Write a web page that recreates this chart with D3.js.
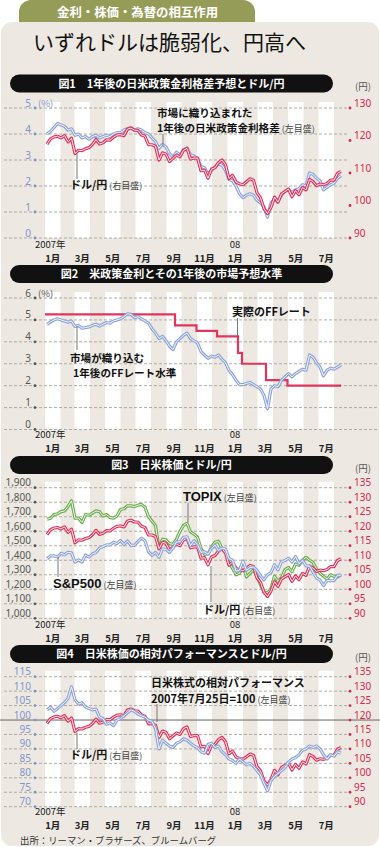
<!DOCTYPE html>
<html><head><meta charset="utf-8">
<script src="https://cdn.jsdelivr.net/npm/d3@7"></script>
<style>
body{margin:0;background:#fff;}
svg{display:block;font-family:"Noto Sans CJK JP","Noto Sans",sans-serif;}
</style></head><body>
<svg id="c" width="380" height="847"></svg>
<script>
// ---------------- DATA (weekly observations, Fridays from 2007-01-05) ----------------
const firstWeek = new Date(2007, 0, 5);
const usdJpy = [118.9,120.5,121.1,121.3,120.8,121.5,119.6,120.7,116.0,117.0,
  116.9,117.5,117.8,118.8,120.3,118.9,119.3,120.2,120.1,121.0,
  121.7,121.8,121.5,123.5,123.8,123.2,123.1,121.7,121.3,118.7,
  118.7,118.2,114.0,116.2,115.8,113.5,114.5,115.5,115.0,117.0,
  117.6,114.3,114.6,114.6,110.7,110.9,108.4,111.2,111.6,113.2,
  114.0,112.5,
  108.3,109.3,107.2,106.7,106.4,107.3,108.2,107.8,103.9,102.4,
  99.0,97.5,99.4,102.6,101.0,103.6,104.3,105.1,102.7,104.6,
  103.3,105.5,104.8,108.0,107.4,106.1,106.6,106.4,106.8,107.8,
  107.8,109.9,110.5];
const rateDiff = [4.00,4.10,4.25,4.40,4.35,4.30,4.15,4.20,3.95,4.00,
  3.85,3.90,3.80,3.90,3.95,3.85,3.90,3.95,3.90,4.00,
  4.05,4.05,4.15,4.20,4.25,4.15,4.20,4.15,4.05,4.00,
  3.85,3.70,3.45,3.60,3.50,3.25,3.10,3.30,3.20,3.40,
  3.45,3.20,3.15,3.05,2.75,2.70,2.45,2.60,2.75,2.85,
  2.80,2.60,2.25,2.20,2.00,1.70,1.55,1.65,1.70,1.65,
  1.45,1.35,1.20,0.80,1.35,1.50,1.40,1.65,1.80,1.85,
  1.75,1.85,1.90,2.05,2.00,2.50,2.45,2.30,2.20,1.85,
  1.95,2.05,2.10,2.30,2.40];
const ffExpected = [4.80,4.90,5.00,5.05,5.00,4.95,4.90,4.95,4.70,4.75,
  4.62,4.65,4.68,4.75,4.80,4.72,4.80,4.88,4.85,4.95,
  5.00,5.05,5.15,5.28,5.25,5.10,5.15,5.05,4.95,4.85,
  4.60,4.40,4.15,4.25,4.05,3.80,3.65,4.00,4.15,4.30,
  4.40,4.15,4.05,3.95,3.55,3.40,3.25,3.35,3.30,3.40,
  3.20,3.05,2.70,2.50,2.25,2.05,2.05,2.10,2.15,2.05,
  1.95,1.85,1.55,0.95,1.85,2.00,1.95,2.25,2.40,2.55,
  2.40,2.55,2.65,2.75,2.70,3.40,3.30,3.05,2.85,2.45,
  2.70,2.80,2.75,2.85,2.95];
const ffActualDates = ["2007-01-01","2007-09-18","2007-10-31","2007-12-11","2008-01-22","2008-01-30","2008-03-18","2008-04-30","2008-08-15"];
const ffActualValues = [5.25,4.75,4.50,4.25,3.50,3.00,2.25,2.00,2.00];
const sp500 = [1410,1430,1430,1422,1448,1438,1455,1451,1387,1403,
  1387,1436,1421,1444,1453,1484,1494,1506,1506,1523,
  1516,1536,1508,1533,1503,1503,1530,1552,1534,1459,
  1433,1454,1420,1479,1474,1454,1484,1526,1527,1558,
  1562,1501,1535,1510,1454,1459,1441,1481,1505,1468,
  1484,1478,
  1412,1401,1325,1331,1395,1331,1350,1353,1331,1293,
  1265,1300,1315,1370,1333,1390,1398,1414,1388,1425,
  1376,1400,1361,1360,1318,1278,1263,1225,1261,1258,
  1260,1296,1298];
const topix = [1682,1690,1715,1720,1735,1740,1770,1810,1690,1690,
  1660,1715,1710,1725,1740,1735,1705,1715,1695,1690,
  1705,1750,1755,1775,1775,1770,1780,1785,1765,1700,
  1670,1640,1480,1545,1540,1515,1510,1545,1600,1640,
  1655,1595,1580,1560,1480,1440,1445,1490,1525,1530,
  1480,1470,
  1380,1345,1300,1310,1360,1285,1310,1335,1290,1230,
  1180,1175,1205,1290,1255,1280,1335,1350,1320,1375,
  1365,1400,1420,1400,1385,1340,1310,1290,1270,1300,
  1290,1285,1300];
const relPerf = [103.5,104.5,103.0,104.0,105.0,106.0,107.5,111.5,107.0,105.5,
  106.0,104.5,104.0,103.5,103.8,101.0,100.5,98.5,99.0,98.0,
  100.0,100.5,101.5,102.5,103.5,103.0,102.0,101.5,101.0,100.0,
  99.5,97.0,90.0,93.0,92.0,91.0,90.5,92.0,92.5,93.5,
  93.0,92.0,91.0,90.5,89.0,88.5,91.5,92.0,90.5,91.0,
  89.0,88.0,86.5,86.0,85.0,86.5,85.5,84.5,85.0,84.0,
  82.5,81.0,78.0,75.5,79.0,80.5,81.5,82.5,83.5,85.5,
  86.5,87.0,88.0,89.5,90.0,91.0,90.5,91.0,90.0,88.0,
  86.5,88.0,87.5,89.0,88.5];
const monthLabels = ["1月","3月","5月","7月","9月","11月","1月","3月","5月","7月"];
const p1LeftTicks = [0,1,2,3,4,5];
const p1RightTicks = [90,100,110,120,130];
const p2LeftTicks = [0,1,2,3,4,5,6];
const p3LeftTicks = [1000,1100,1200,1300,1400,1500,1600,1700,1800,1900];
const p3RightTicks = [90,95,100,105,110,115,120,125,130,135];
const p4LeftTicks = [70,75,80,85,90,95,100,105,110,115];
const p4RightTicks = [90,95,100,105,110,115,120,125,130,135];

// ---------------- STYLE ----------------
const BG = "#ede9e2", RED = "#e2345d", BLUE = "#8da4da", GREEN = "#6aad4b";
const RED_T = "#d9264f", BLUE_T = "#7d95cc", GREY_T = "#555";
const svg = d3.select("#c");
const weeks = usdJpy.map((_, i) => d3.timeDay.offset(firstWeek, 7 * i));
const x = d3.scaleTime().domain([new Date(2007,0,1), new Date(2008,7,1)]).range([45, 334]);
const bandMonths = d3.timeMonth.range(new Date(2007,0,1), new Date(2008,7,1)).filter(d => d.getMonth() % 2 === 0);

// frame
svg.append("rect").attr("x",19).attr("y",0).attr("width",236).attr("height",34).attr("rx",12).attr("fill","#959c57");
svg.append("rect").attr("x",1).attr("y",22).attr("width",378).attr("height",824).attr("rx",11).attr("fill",BG);
svg.append("text").attr("x",57).attr("y",17).attr("fill","#fff").attr("font-size",12.4).attr("font-weight","bold").text("金利・株価・為替の相互作用");
svg.append("text").attr("x",33).attr("y",50).attr("fill","#111").attr("font-size",21).text("いずれドルは脆弱化、円高へ");

const panels = [
  {top:108, bot:238, head:74.5, title:"図1　1年後の日米政策金利格差予想とドル/円",
   left:{dom:[0,5], ticks:p1LeftTicks, color:BLUE_T, fmt:d=>d, pct:"(%)"},
   right:{dom:[90,130], ticks:p1RightTicks}, gridEnd:348, yen:90, xl:248, ml:262},
  {top:298, bot:429.5, head:265, title:"図2　米政策金利とその1年後の市場予想水準",
   left:{dom:[0,6], ticks:p2LeftTicks, color:GREY_T, fmt:d=>d, pct:"(%)"},
   right:null, gridEnd:378, xl:438, ml:452},
  {top:487.7, bot:618.3, head:456, title:"図3　日米株価とドル/円",
   left:{dom:[1000,1900], ticks:p3LeftTicks, color:GREY_T, fmt:d3.format(",")},
   right:{dom:[90,135], ticks:p3RightTicks}, gridEnd:348, yen:472, xl:628, ml:642},
  {top:676.7, bot:806.7, head:645, title:"図4　日米株価の相対パフォーマンスとドル/円",
   left:{dom:[70,115], ticks:p4LeftTicks, color:BLUE_T, fmt:d=>d, solid:100},
   right:{dom:[90,135], ticks:p4RightTicks}, gridEnd:348, yen:661, xl:815, ml:829}
];

panels.forEach(p => {
  const g = svg.append("g");
  p.g = g;
  p.yL = d3.scaleLinear().domain(p.left.dom).range([p.bot, p.top]);
  if (p.right) p.yR = d3.scaleLinear().domain(p.right.dom).range([p.bot, p.top]);
  // header
  g.append("rect").attr("x",10).attr("y",p.head).attr("width",323).attr("height",18).attr("rx",9).attr("fill","#111");
  g.append("text").attr("x",171.5).attr("y",p.head+13).attr("text-anchor","middle").attr("fill","#fff")
    .attr("font-size",11).attr("font-weight","bold").text(p.title);
  // month bands
  g.selectAll(".band").data(bandMonths).join("rect")
    .attr("x", d => x(d)).attr("width", d => x(d3.timeMonth.offset(d,1)) - x(d))
    .attr("y", p.top - 6).attr("height", p.bot - p.top + 6).attr("fill", "#fff");
  // gridlines
  p.left.ticks.forEach(t => {
    if (t === p.left.solid) return;
    g.append("line").attr("x1",4).attr("x2",p.gridEnd).attr("y1",p.yL(t)).attr("y2",p.yL(t))
      .attr("stroke","#9e9a94").attr("stroke-width",0.8).attr("stroke-dasharray","3,2");
  });
  if (p.left.solid !== undefined) {
    g.append("line").attr("x1",0).attr("x2",380).attr("y1",p.yL(p.left.solid)).attr("y2",p.yL(p.left.solid))
      .attr("stroke","#666").attr("stroke-width",1);
  }
  // left axis
  p.left.ticks.forEach(t => {
    g.append("circle").attr("cx",35).attr("cy",p.yL(t)).attr("r",1.4).attr("fill",p.left.color);
    g.append("text").attr("x",31).attr("y",p.yL(t)-1.5).attr("text-anchor","end").attr("fill",p.left.color)
      .attr("font-family","'Noto Sans',sans-serif").attr("font-size",10).text(p.left.fmt(t));
  });
  if (p.left.pct) {
    g.append("text").attr("x",38).attr("y",p.yL(p.left.dom[1])-1.5).attr("fill",p.left.color)
      .attr("font-size",9.5).text(p.left.pct);
  }
  // right axis
  if (p.right) {
    p.right.ticks.forEach(t => {
      g.append("circle").attr("cx",350).attr("cy",p.yR(t)).attr("r",1.4).attr("fill",RED_T);
      g.append("text").attr("x",354).attr("y",p.yR(t)-1.5).attr("fill",RED_T)
        .attr("font-family","'Noto Sans',sans-serif").attr("font-size",10).text(t);
    });
    g.append("text").attr("x",355).attr("y",p.yen).attr("fill","#555").attr("font-size",9.5).text("(円)");
  }
  // x labels
  g.append("text").attr("x",35).attr("y",p.xl).attr("fill","#222").attr("font-size",9.5).text("2007年");
  g.append("text").attr("x",x(new Date(2008,0,16))).attr("y",p.xl).attr("text-anchor","middle").attr("fill","#222").attr("font-size",9.5).text("08");
  g.selectAll(".ml").data(bandMonths).join("text")
    .attr("x", d => (x(d) + x(d3.timeMonth.offset(d,1))) / 2).attr("y", p.ml)
    .attr("text-anchor","middle").attr("fill","#222").attr("font-size",9.5).attr("font-weight","bold")
    .text((d,i) => monthLabels[i]);
});

function ribbon(g, vals, y, color) {
  const line = d3.line().x((d,i) => x(weeks[i])).y(d => y(d));
  g.append("path").attr("d", line(vals)).attr("fill","none").attr("stroke",color)
    .attr("stroke-width",3.2).attr("stroke-linejoin","round");
  g.append("path").attr("d", line(vals)).attr("fill","none").attr("stroke","#fff")
    .attr("stroke-width",0.9).attr("stroke-linejoin","round");
}
function leader(g, x0, y0, y1) {
  g.append("line").attr("x1",x0).attr("x2",x0).attr("y1",y0).attr("y2",y1).attr("stroke","#777").attr("stroke-width",1);
}
// multi-line label: lines = [[x, dy, main, note], ...]
function label(g, x0, y0, lines, size, family) {
  const t = g.append("text").attr("x",x0).attr("y",y0).attr("fill","#111");
  lines.forEach((ln, i) => {
    t.append("tspan").attr("x", ln[0]).attr("dy", i === 0 ? 0 : ln[1])
      .attr("font-size",size || 11).attr("font-weight","bold")
      .attr("font-family", family || null).text(ln[2]);
    if (ln[3]) t.append("tspan").attr("dx",2).attr("font-size",9).attr("font-weight","normal")
      .attr("font-family", "'Noto Sans CJK JP',sans-serif").attr("fill","#444").text(ln[3]);
  });
}

// Panel 1
{
  const p = panels[0], g = p.g;
  ribbon(g, rateDiff, p.yL, BLUE);
  ribbon(g, usdJpy, p.yR, RED);
  leader(g, 163, 134, 146);
  label(g, 157, 117, [[157,0,"市場に織り込まれた"],[157,15.4,"1年後の日米政策金利格差","(左目盛)"]], 10.6);
  leader(g, 77, 154, 179);
  label(g, 70, 189, [[70,0,"ドル/円","(右目盛)"]]);
}
// Panel 2
{
  const p = panels[1], g = p.g;
  const step = d3.line().x(d => x(d[0])).y(d => p.yL(d[1])).curve(d3.curveStepAfter);
  const pts = ffActualDates.map((d,i) => [d3.timeParse("%Y-%m-%d")(d), ffActualValues[i]]);
  g.append("path").attr("d", step(pts)).attr("fill","none").attr("stroke",RED).attr("stroke-width",2.2);
  ribbon(g, ffExpected, p.yL, BLUE);
  leader(g, 237.5, 318, 336);
  label(g, 232, 316, [[232,0,"実際のFFレート"]]);
  leader(g, 77, 326, 350);
  label(g, 70, 362, [[70,0,"市場が織り込む"],[73,15.4,"1年後のFFレート水準"]], 10.6);
}
// Panel 3
{
  const p = panels[2], g = p.g;
  ribbon(g, topix, p.yL, GREEN);
  ribbon(g, usdJpy, p.yR, RED);
  ribbon(g, sp500, p.yL, BLUE);
  leader(g, 188, 503, 522);
  label(g, 183, 501, [[183,0,"TOPIX","(左目盛)"]], 13, "'Liberation Sans',Arial,sans-serif");
  leader(g, 58, 557, 577);
  label(g, 53, 588, [[53,0,"S&P500","(左目盛)"]], 13, "'Liberation Sans',Arial,sans-serif");
  leader(g, 211, 566, 602);
  label(g, 203, 614, [[203,0,"ドル/円","(右目盛)"]]);
}
// Panel 4
{
  const p = panels[3], g = p.g;
  ribbon(g, usdJpy, p.yR, RED);
  ribbon(g, relPerf, p.yL, BLUE);
  leader(g, 157, 704, 722);
  label(g, 151, 687, [[151,0,"日米株式の相対パフォーマンス"],[151,16,"2007年7月25日=100","(左目盛)"]]);
  leader(g, 77, 733, 749);
  label(g, 70, 759, [[70,0,"ドル/円","(右目盛)"]]);
}
svg.append("text").attr("x",20).attr("y",844).attr("fill","#333").attr("font-size",9.4).text("出所：リーマン・ブラザーズ、ブルームバーグ");
</script>
</body></html>
